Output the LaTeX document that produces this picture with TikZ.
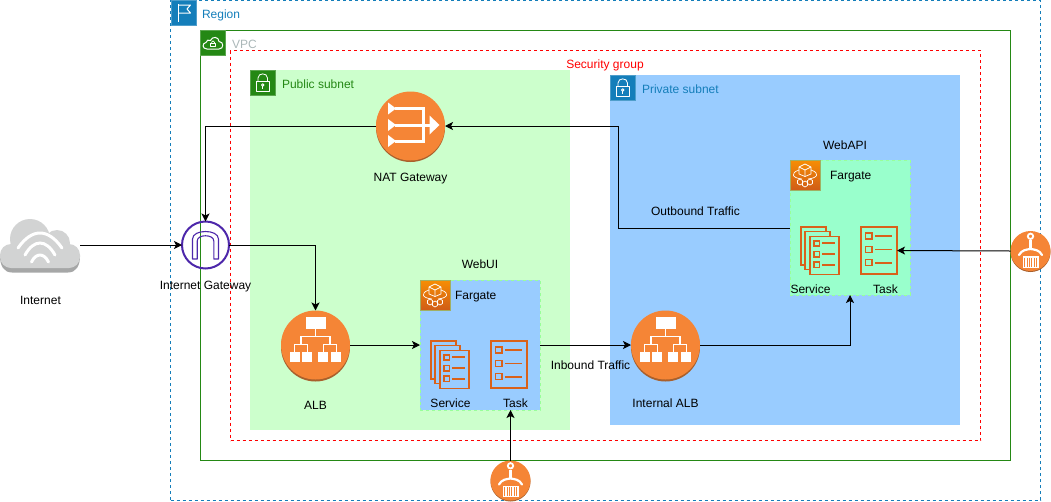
\documentclass[tikz,border=0pt]{standalone}
\usepackage{fontspec}
\setmainfont{Liberation Sans}
\usetikzlibrary{arrows.meta,calc}
\definecolor{cblue}{HTML}{147EBA}
\definecolor{cgreen}{HTML}{248814}
\definecolor{cred}{HTML}{FF0000}
\definecolor{corange}{HTML}{F58536}
\definecolor{cdark}{HTML}{A9602C}
\definecolor{cline}{HTML}{D9611A}
\definecolor{cpurple}{HTML}{4D27AA}
\definecolor{cfbottom}{HTML}{D05C17}
\definecolor{cftop}{HTML}{F78E04}
\definecolor{cgreenfill}{HTML}{CCFFCC}
\definecolor{cbluefill}{HTML}{99CCFF}
\definecolor{cmint}{HTML}{99FFCC}
\definecolor{cfbord}{HTML}{99FF99}
\definecolor{cloudshade}{HTML}{A6A7A7}
\definecolor{cloudgrey}{HTML}{D2D3D3}
\definecolor{cvpc}{HTML}{AAB7B8}
\tikzset{
  x=1pt,y=-1pt,
  every node/.style={font=\fontsize{12}{14}\selectfont,inner sep=0pt,outer sep=0pt},
  groupbox/.style={rectangle,draw=cgreen,line width=1pt},
  dashbox/.style={rectangle,line width=1pt,dash pattern=on 3pt off 3pt},
  fargatebox/.style={rectangle,fill=#1,draw=cfbord,line width=.8pt,dash pattern=on 3pt off 3pt},
  subnet/.style={rectangle,fill=#1},
  badge/.style={rectangle,fill=#1,draw=#1!75!white,line width=.5pt,minimum width=25pt,minimum height=25pt},
  fbadge/.style={rectangle,top color=cftop,bottom color=cfbottom,draw=cfbord!50!cdark,line width=.4pt,minimum width=30pt,minimum height=30pt},
  sym/.style={draw=white,line width=1pt,fill=none,line join=round},
  round icon/.style={circle,fill=corange,minimum size=#1},
  conn/.style={draw=black,line width=1pt},
  arrowed/.style={conn,-{Stealth[length=8pt,width=8pt,inset=2pt]}},
  lbl/.style={text=black,anchor=base},
  lblw/.style={anchor=base west},
  wifi/.style={draw=white,line width=3pt,line cap=round},
  taskline/.style={draw=cline,line width=1.5pt},
  rowline/.style={draw=cline,line width=1.8pt},
  pics/regionflag/.style={code={
    \draw[sym] (-5.5,9) -- (-5.5,-9);
    \draw[sym] (-5.5,-7.5) -- (7,-7.5) -- (3.5,-3.5) -- (7,0.5) -- (-5.5,0.5);
  }},
  pics/cloudlock/.style={code={
    \draw[sym] (-6,6) .. controls (-11,6) and (-11,0) .. (-7,-0.5) .. controls (-7,-3) and (-4,-3.5) .. (-2.5,-2.5) .. controls (-1,-7) and (6,-6.5) .. (6,-1.5) .. controls (11,-1.5) and (11,6) .. (6,6) -- cycle;
    \draw[sym,line width=.7pt] (-2.5,0) rectangle (2.5,3.7);
    \draw[sym,line width=.7pt] (-1.4,0) -- (-1.4,-0.8) .. controls (-1.4,-2.6) and (1.4,-2.6) .. (1.4,-0.8) -- (1.4,0);
  }},
  pics/padlock/.style={code={
    \draw[sym,line width=.8pt] (-6,-1.5) rectangle (6.5,9);
    \draw[sym,line width=.8pt] (-4.5,-1.5) -- (-4.5,-4.5) .. controls (-4.5,-10) and (5,-10) .. (5,-4.5) -- (5,-1.5);
    \draw[sym,line width=.8pt] (0.25,2.5) circle (1.3);
    \draw[sym,line width=.8pt] (0.25,3.8) -- (0.25,6.5);
  }},
  pics/cube/.style={code={
    \draw[sym,line width=.7pt] (-6,-8) -- (0,-11) -- (6,-8) -- (6,-1) -- (0,1.5) -- (-6,-1) -- cycle;
    \draw[sym,line width=.7pt] (-6,-8) -- (0,-5) -- (6,-8) (0,-5) -- (0,1.5);
    \draw[sym,line width=.7pt] (-6,-5) .. controls (-15,-2) and (-13,3) .. (-3,4);
    \draw[sym,line width=.7pt] (6,-5) .. controls (15,-2) and (13,3) .. (3,4);
    \foreach \cx/\cy in {-5/7,0/9,5/7}{
      \draw[sym,line width=.7pt] (\cx-2.5,\cy-1.5) -- (\cx,\cy-3) -- (\cx+2.5,\cy-1.5) -- (\cx+2.5,\cy+1.5) -- (\cx,\cy+3) -- (\cx-2.5,\cy+1.5) -- cycle;
    }
  }},
  pics/albmark/.style={code={
    \fill[white] (-10,-28.5) rectangle (10,-16.5);
    \draw[white,line width=1.3pt] (0,-16.5) -- (0,-8.8) (-14.5,-0.2) -- (-14.5,-8.8) -- (14.5,-8.8) -- (14.5,-0.2)
      (-21,6.8) -- (-21,-0.2) -- (-8.3,-0.2) -- (-8.3,6.8)
      (7.7,6.8) -- (7.7,-0.2) -- (20.7,-0.2) -- (20.7,6.8);
    \foreach \bx in {-26,-13.3,2.7,15.7}{\fill[white] (\bx,6.8) rectangle ++(10,10.4);}
  }},
  pics/natmark/.style={code={
    \draw[white,line width=3pt] (-16,-17.5) -- (12.5,-17.5) -- (12.5,15) -- (-16,15)
       (-16,-1) -- (20,-1);
    \foreach \ty in {-17.5,-1,15}{\fill[white] (-22.5,\ty-6) -- (-14.5,\ty) -- (-22.5,\ty+6) -- cycle;}
    \fill[white] (19,-10.5) -- (29,-1) -- (19,8.5) -- cycle;
  }},
  pics/gatewaymark/.style={code={
    \draw[cpurple,line width=1.1pt,line join=round] (-13,14) -- (-13,-6) .. controls (-13,-16) and (13,-16) .. (13,-6) -- (13,14) -- (8.3,14) -- (8.3,-4) .. controls (8.3,-11) and (-8.3,-11) .. (-8.3,-4) -- (-8.3,14) -- cycle;
  }},
  pics/containermark/.style={code={
    \draw[white,line width=1.8pt] (0,-14.7) circle (2.7);
    \draw[white,line width=2.4pt] (0,-11) -- (0,-2);
    \draw[white,line width=2.2pt,line cap=round] (-11.5,4) .. controls (-9,-1) and (-4,-1.5) .. (0,-2) .. controls (4,-1.5) and (9,-1) .. (11.5,4);
    \fill[white] (-8,5) rectangle (8,16.7);
    \foreach \sx in {-6,-3.6,-1.2,1.2,3.6,6}{\draw[corange,line width=.6pt] (\sx,6.5) -- (\sx,15.5);}
  }},
  pics/servicemark/.style={code={
    \draw[taskline] (0,0) rectangle (25,38);
    \path[fill=#1,draw=cline,line width=1.5pt] (4,4.5) rectangle (29,42.5);
    \path[fill=#1,draw=cline,line width=1.5pt] (9,9.5) rectangle (38,47.3);
    \foreach \ry in {16.3,27,37.7}{
      \draw[taskline] (13,\ry-2.5) rectangle ++(5.3,5.3);
      \draw[rowline] (21.3,\ry) -- (34,\ry);
    }
  }},
  pics/taskmark/.style={code={
    \draw[taskline] (-18,-23.5) rectangle (18,23.5);
    \foreach \ry in {-14.5,-1,12.2}{
      \draw[taskline] (-13.3,\ry-3) rectangle ++(6.3,6);
      \draw[rowline] (-4,\ry) -- (13.3,\ry);
    }
  }},
}
\begin{document}
\begin{tikzpicture}
\useasboundingbox (0,0) rectangle (1051,501);
% containers
\node[dashbox,draw=cblue,minimum width=870pt,minimum height=499.5pt] (region) at (605.5,250.25) {};
\node[groupbox,minimum width=810pt,minimum height=430pt] (vpc) at (605.5,245.5) {};
\node[subnet=cgreenfill,minimum width=320pt,minimum height=360pt] (pub) at (410,250) {};
\node[subnet=cbluefill,minimum width=350pt,minimum height=350pt] (priv) at (785,250) {};
\node[dashbox,draw=cred,minimum width=750pt,minimum height=390pt] (sg) at (605.5,245.5) {};
\node[fargatebox=cbluefill,minimum width=120pt,minimum height=130pt] (fg1) at (480,345) {};
\node[fargatebox=cmint,minimum width=120pt,minimum height=135pt] (fg2) at (850,227.5) {};
% badges
\node[badge=cblue] (regionb) at (183.5,12.5) {}; \pic at (regionb) {regionflag};
\node[badge=cgreen] (vpcb) at (213,43) {}; \pic at (vpcb) {cloudlock};
\node[badge=cgreen] (pubb) at (262.5,82.5) {}; \pic at (pubb) {padlock};
\node[badge=cblue] (privb) at (622.5,87.5) {}; \pic at (privb) {padlock};
\node[fbadge] (fb1) at (435,295) {}; \pic at (fb1) {cube};
\node[fbadge] (fb2) at (805,175) {}; \pic at (fb2) {cube};
% service and task icons
\pic at (431,341) {servicemark={cbluefill}};
\node[minimum width=36pt,minimum height=47pt] (task1) at (509,364.5) {}; \pic at (task1) {taskmark};
\pic at (801,227) {servicemark={cmint}};
\node[minimum width=36pt,minimum height=47pt] (task2) at (879,250.5) {}; \pic at (task2) {taskmark};
% internet
\fill[cloudshade] (0,256) .. controls (0,266) and (4,272.5) .. (12,272.5) -- (68,272.5) .. controls (76,272.5) and (80,266) .. (80,256) -- cycle;
\node[circle,fill=cloudgrey,minimum size=40pt] (cloudtop) at (30,239) {};
\node[circle,fill=cloudgrey,minimum size=26pt] (cloudside) at (57,243) {};
\node[rectangle,rounded corners=11pt,fill=cloudgrey,minimum width=80pt,minimum height=24pt] (internet) at (40,256) {};
\draw[wifi] (18,248) .. controls (32,228) and (48,228) .. (62,248);
\draw[wifi] (25,255) .. controls (34,239) and (46,239) .. (55,255);
\draw[wifi] (31.5,262) .. controls (36,252.7) and (44,252.7) .. (48.5,262);
% gateway
\node[circle,draw=cpurple,line width=2pt,minimum size=47pt] (igw) at (205.5,245) {};
\pic at (igw) {gatewaymark};
% round icons
\fill[cdark] (410.5,127.5) circle (34.5);
\node[round icon=69pt] (nat) at (410.5,126) {}; \pic at (nat) {natmark};
\fill[cdark] (315.5,347) circle (34.5);
\node[round icon=69pt] (alb) at (315.5,345) {}; \pic at (alb) {albmark};
\fill[cdark] (665.5,347) circle (34.5);
\node[round icon=69pt] (ialb) at (665.5,345) {}; \pic at (ialb) {albmark};
\fill[cdark] (1030.5,252) circle (20);
\node[round icon=40pt] (cont1) at (1030.5,251) {}; \pic at (cont1) {containermark};
\fill[cdark] (510.5,481.5) circle (20);
\node[round icon=40pt] (cont2) at (510.5,480.5) {}; \pic at (cont2) {containermark};
% helper points
\coordinate (outb) at (790,228);
\coordinate (outk) at (618,228);
% connectors
\draw[arrowed] (internet.east |- igw.west) -- (igw.west);
\draw[arrowed] (igw.east) -| (alb.north);
\draw[arrowed] (alb.east) -- (fg1.west);
\draw[arrowed] (fg1.east) -- (ialb.west);
\draw[arrowed] (ialb.east) -| (fg2.south);
\draw[arrowed] (outb) -- (outk) |- (nat.east);
\draw[arrowed] (nat.west) -| (igw.north);
\draw[arrowed] (cont1.west) -- (task2.east);
\draw[arrowed] (cont2.north) -- (cont2 |- fg1.south);
% labels
\node[lblw,text=cblue] (tregion) at (202,18) {Region};
\node[lblw,text=cvpc] (tvpc) at (232,48) {VPC};
\node[lbl,text=cred] (tsg) at (605,68) {Security group};
\node[lblw,text=cgreen] (tpub) at (282,88) {Public subnet};
\node[lblw,text=cblue] (tpriv) at (642,93) {Private subnet};
\node[lbl] (tnat) at (410.5,181) {NAT Gateway};
\node[lbl] (tinternet) at (40.5,304) {Internet};
\node[lbl] (tigw) at (205.5,289) {Internet Gateway};
\node[lbl] (talb) at (315.5,409) {ALB};
\node[lbl] (twebui) at (480,268) {WebUI};
\node[lblw] (tf1) at (455,299) {Fargate};
\node[lbl] (ts1) at (450.5,407) {Service};
\node[lbl] (tt1) at (515.5,407) {Task};
\node[lbl] (tin) at (590.5,369) {Inbound Traffic};
\node[lbl] (tialb) at (665.5,407) {Internal ALB};
\node[lbl] (twebapi) at (845,149) {WebAPI};
\node[lblw] (tf2) at (830,179) {Fargate};
\node[lbl] (ts2) at (810.5,293) {Service};
\node[lbl] (tt2) at (885.5,293) {Task};
\node[lbl] (tout) at (695.5,215) {Outbound Traffic};
\end{tikzpicture}
\end{document}
